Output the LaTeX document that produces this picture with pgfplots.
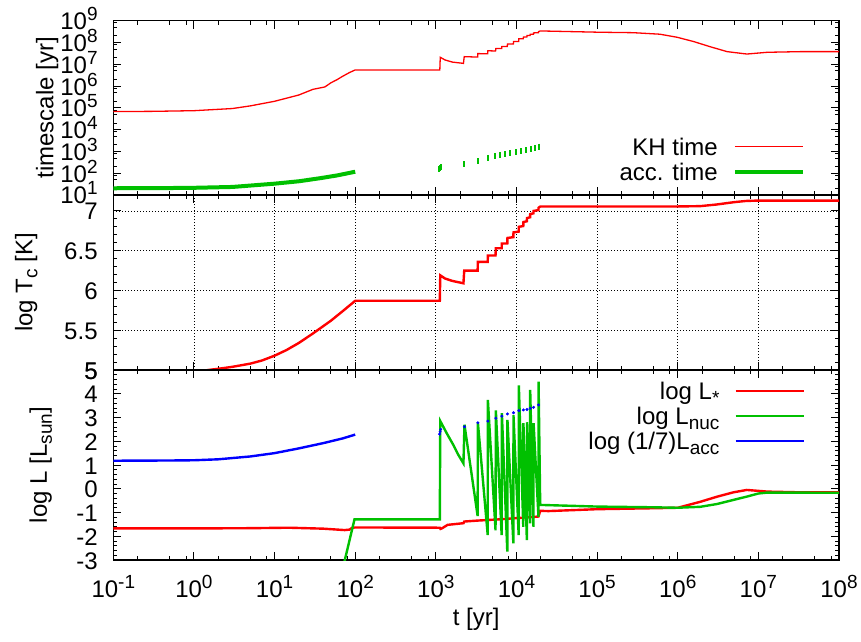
\documentclass[border=0pt]{standalone}
\usepackage{pgfplots}
\pgfplotsset{compat=1.18}
\usepackage{fontspec}
\setmainfont{Liberation Sans}
\definecolor{gred}{rgb}{1,0,0}
\definecolor{ggreen}{RGB}{0,192,0}
\definecolor{gblue}{rgb}{0,0,1}
\newcommand\tp[1]{10\raisebox{9pt}{\fontsize{19}{19}\selectfont #1}}
\newcommand\sbs[1]{\raisebox{-5pt}{\fontsize{19}{19}\selectfont #1}}
\newcommand\fs{\fontsize{24}{28}\selectfont}
\pgfplotsset{
  gp/.style={
    scale only axis, width=725.7pt, anchor=south west,
    xmin=0.1, xmax=1e8,
    xtick={0.1,1,10,100,1000,1e4,1e5,1e6,1e7,1e8},
    minor xtick={0.2,0.5,0.8,2,5,8,20,50,80,200,500,800,2000,5000,8000,2e4,5e4,8e4,2e5,5e5,8e5,2e6,5e6,8e6,2e7,5e7,8e7},
    major tick length=8pt, minor tick length=4pt,
    tick style={black, line width=0.9pt},
    axis line style={line width=1.3pt},
    tick label style={font=\fs},
    xticklabel style={anchor=base, yshift=-37pt},
    yticklabel style={anchor=base east, inner sep=0pt, xshift=-15.5pt, yshift=-9pt},
    every axis y label/.style={rotate=90, anchor=base, font=\fs},
    every axis x label/.style={at={([yshift=-65pt]axis description cs:0.5,0)}, anchor=base, font=\fs},
    legend plot pos=right,
    legend cell align=right,
    legend image code/.code={\draw[##1] (0pt,0pt) -- (68pt,0pt);},
    legend style={draw=none, fill=none, font=\fs,
      nodes={inner sep=0pt, text height=17pt, text depth=0pt},
      column sep=15pt, row sep=8pt},
  }
}
\begin{document}
\begin{tikzpicture}
\path[use as bounding box] (0,0) rectangle (861pt,641pt);
% ---------------- top panel
\begin{axis}[xmode=log, ymode=log, gp, at={(113.3pt,446pt)}, height=174.3pt,
  ymin=10, ymax=1e9,
  ytick={1e1,1e2,1e3,1e4,1e5,1e6,1e7,1e8,1e9},
  yticklabels={\tp{1},\tp{2},\tp{3},\tp{4},\tp{5},\tp{6},\tp{7},\tp{8},\tp{9}},
  minor ytick={20,50,80,200,500,800,2e3,5e3,8e3,2e4,5e4,8e4,2e5,5e5,8e5,2e6,5e6,8e6,2e7,5e7,8e7,2e8,5e8,8e8},
  xticklabels={},
  ylabel={timescale [yr]},
  ylabel style={at={([xshift=-60pt]axis description cs:0,0.5)}},
  legend style={at={(rel axis cs:1,0)}, anchor=south east, xshift=-31pt, yshift=12.5pt}]
\addplot[gred, line width=1.3pt] coordinates {
 (0.1,6.76e4) (0.3,6.9e4) (1,7.41e4) (3,9.3e4) (5,1.23e5) (10,2.0e5) (20,3.89e5)
 (30,7.08e5) (42,9.1e5) (50,1.41e6) (60,2.0e6) (70,2.82e6) (85,4.17e6) (100,5.5e6)
 (1120,5.5e6) (1135,2.09e7) (1300,1.58e7) (1600,1.26e7) (2200,1.10e7) (2250,2.24e7)
 (3300,2.14e7) (3320,3.09e7) (4400,3.02e7) (4420,4.17e7) (5500,4.07e7) (5550,5.25e7)
 (6550,5.25e7) (6590,6.61e7) (7700,6.61e7) (7730,8.51e7) (9150,8.51e7) (9180,1.12e8)
 (10650,1.12e8) (10700,1.48e8) (12150,1.48e8) (12200,1.78e8) (13450,1.78e8) (13500,2.09e8)
 (14750,2.09e8) (14800,2.40e8) (16250,2.40e8) (16300,2.75e8) (18750,2.82e8) (18800,3.16e8)
 (19700,3.39e8) (1.1e5,2.95e8) (2.8e5,2.82e8) (6e5,2.4e8) (9.8e5,1.74e8) (1.58e6,1.1e8)
 (2.5e6,6.46e7) (4.1e6,3.8e7) (7.2e6,2.95e7) (1.29e7,3.55e7) (3.3e7,3.8e7) (1e8,3.8e7)};
\addlegendentry{KH time}
\addplot[ggreen, line width=4pt] coordinates {
 (0.1,20.4) (0.3,20.5) (1,21.4) (3,23.4) (10,33.1) (20,42.7) (36.6,58.9) (60,79.4) (100,117)};
\addlegendentry{acc. time}
\addplot[ggreen, only marks, mark=|, mark size=3pt, line width=2pt, forget plot] coordinates {
 (1110,150) (1130,170) (1150,190) (2265,263) (3370,363) (4480,501) (5400,617) (6260,676)
 (7250,759) (8400,832) (9740,933) (11300,1023) (13100,1148) (15100,1259) (17000,1413) (19200,1660)};
\end{axis}
% ---------------- middle panel
\begin{axis}[xmode=log, gp, at={(113.3pt,271pt)}, height=175pt,
  ymin=5, ymax=7.2,
  ytick={5,5.5,6,6.5,7}, yticklabels={5,5.5,6,6.5,7},
  minor y tick num=4,
  grid=major, major grid style={black, line width=0.7pt, dash pattern=on 1pt off 2pt},
  xticklabels={},
  ylabel={log T\sbs{c} [K]},
  ylabel style={at={([xshift=-81pt]axis description cs:0,0.5)}}]
\addplot[gred, line width=2.4pt] coordinates {
 (1.3,4.99) (1.5,5.0) (2,5.015) (3,5.04) (5,5.08) (7,5.12) (10,5.18) (14,5.25) (20,5.34) (30,5.46)
 (50,5.62) (70,5.74) (100,5.87)
 (1120,5.87) (1135,6.19) (1300,6.15) (1600,6.12) (2200,6.09) (2250,6.25) (3300,6.25) (3320,6.36)
 (4400,6.36) (4420,6.44) (5500,6.44) (5550,6.53) (6550,6.53) (6590,6.59) (7700,6.59) (7730,6.66)
 (9150,6.67) (9180,6.73) (10650,6.74) (10700,6.8) (12150,6.81) (12200,6.86) (13450,6.87) (13500,6.91)
 (14750,6.92) (14800,6.96) (16250,6.97) (16300,7.0) (18750,7.01) (18800,7.04) (19700,7.055)
 (1e5,7.055) (1e6,7.056) (1.9e6,7.06) (3e6,7.08) (5e6,7.11) (7e6,7.125) (1e7,7.13) (1e8,7.13)};
\end{axis}
% ---------------- bottom panel
\begin{axis}[xmode=log, gp, at={(113.3pt,81pt)}, height=190pt,
  ymin=-3, ymax=5,
  ytick={-3,-2,-1,0,1,2,3,4,5}, yticklabels={-3,-2,-1,0,1,2,3,4,5},
  minor y tick num=4,
  xticklabels={\tp{-1},\tp{0},\tp{1},\tp{2},\tp{3},\tp{4},\tp{5},\tp{6},\tp{7},\tp{8}},
  xlabel={t [yr]},
  ylabel={log L [L\sbs{sun}]},
  ylabel style={at={([xshift=-66.5pt]axis description cs:0,0.5)}},
  legend style={at={(rel axis cs:1,1)}, anchor=north east, xshift=-31pt, yshift=-10pt}]
\addplot[gred, line width=2.4pt] coordinates {
 (0.1,-1.67) (1,-1.67) (5,-1.66) (15,-1.64) (40,-1.68) (74,-1.74) (85,-1.72) (92,-1.64)
 (100,-1.63) (1120,-1.64) (1140,-1.69) (1200,-1.66) (1400,-1.52) (2200,-1.45) (2250,-1.38)
 (3300,-1.34) (6000,-1.29) (18750,-1.17) (19700,-0.93) (2.5e4,-0.94) (1e5,-0.86) (5e5,-0.82)
 (1e6,-0.8) (1.9e6,-0.55) (3.1e6,-0.33) (4.9e6,-0.15) (7.2e6,-0.05) (1.3e7,-0.12) (3.3e7,-0.15) (1e8,-0.15)};
\addlegendentry{log L\sbs{*}}
\addplot[ggreen, line width=2.4pt] coordinates {
 (72,-3.2) (98,-1.29) (1120,-1.29) (1135,2.85) (1368,2.33) (1652,1.84) (1906,1.42) (2200,1.07)
 (2265,2.7) (3300,-1.15) (3320,2.8) (4400,-1.95) (4420,3.74) (5500,-1.75) (5550,3.3) (6550,-1.95)
 (6590,3.18) (7700,-2.65) (7730,2.9) (9150,-2.3) (9180,3.1) (10650,-1.95) (10700,4.35) (12150,-1.6)
 (12200,2.76) (13450,-2.16) (13500,2.8) (14750,-1.46) (14800,4.16) (16250,-1.6) (16300,2.76)
 (18750,-1.18) (18800,4.51) (19700,-0.68) (1e5,-0.75) (5e5,-0.78) (1e6,-0.8) (1.9e6,-0.76)
 (3.1e6,-0.64) (4.9e6,-0.47) (7.2e6,-0.33) (1e7,-0.2) (1.3e7,-0.16) (1e8,-0.17)};
\addlegendentry{log L\sbs{nuc}}
\addplot[gblue, line width=2.4pt] coordinates {
 (0.1,1.18) (0.5,1.19) (1,1.2) (2,1.24) (5,1.36) (10,1.5) (20,1.7) (40,1.92) (70,2.12) (100,2.28)};
\addlegendentry{log (1/7)L\sbs{acc}}
\addplot[gblue, only marks, mark=*, mark size=1.3pt, forget plot] coordinates {
 (1110,2.3) (1130,2.4) (1150,2.5) (2265,2.61) (3320,2.78) (4420,2.85) (5550,2.97) (6590,3.06)
 (7730,3.15) (9180,3.20) (10700,3.29) (12200,3.32) (13500,3.34) (14800,3.39) (16300,3.43) (18800,3.53)};
\end{axis}
\end{tikzpicture}
\end{document}
